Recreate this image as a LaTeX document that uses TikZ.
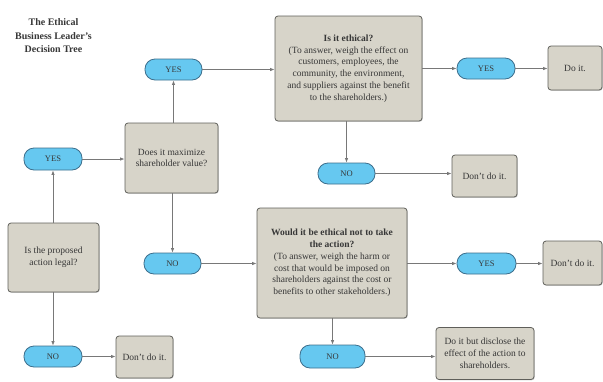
\documentclass[tikz,border=0pt]{standalone}
\usepackage{fontspec}
\setmainfont{Liberation Serif}
\usetikzlibrary{arrows.meta,shadows}
\definecolor{boxfill}{RGB}{215,212,201}
\definecolor{boxline}{RGB}{95,95,90}
\definecolor{pillfill}{RGB}{102,200,240}
\definecolor{pillline}{RGB}{60,110,140}
\definecolor{txt}{RGB}{55,55,55}
\definecolor{conn}{RGB}{120,120,120}
\tikzset{
  decbox/.style={draw=boxline, line width=0.8pt, fill=boxfill, rounded corners=3pt,
    align=center, text=txt, inner sep=2pt,
    font=\fontsize{9.5}{11.8}\selectfont,
    drop shadow={shadow xshift=0.8pt, shadow yshift=-0.8pt, opacity=0.35}},
  pill/.style={draw=pillline, line width=0.8pt, fill=pillfill, rounded corners=10pt,
    align=center, text=txt, inner sep=1pt, font=\fontsize{8.5}{9}\selectfont},
  conn/.style={draw=conn, line width=0.8pt, -{Latex[length=4.5pt,width=3.5pt]}},
}
\begin{document}
\begin{tikzpicture}[x=1pt,y=-1pt]
\useasboundingbox (0,0) rectangle (603,381);
% title
\node (title) [align=center, text=txt, font=\bfseries\fontsize{10}{13.5}\selectfont] at (53.5,36)
  {The Ethical\\Business Leader's\\Decision Tree};
% boxes
\node (legal) [decbox, minimum width=91pt, minimum height=69pt] at (53.5,257.5)
  {Is the proposed\\action legal?};
\node (max) [decbox, minimum width=93pt, minimum height=70pt] at (171.5,158)
  {Does it maximize\\shareholder value?};
\node (eth) [decbox, minimum width=147pt, minimum height=105pt] at (348.5,68.5)
  {\textbf{Is it ethical?}\\(To answer, weigh the effect on\\customers, employees, the\\community, the environment,\\and suppliers against the benefit\\to the shareholders.)};
\node (would) [decbox, minimum width=150pt, minimum height=110pt] at (332,263)
  {\textbf{Would it be ethical not to take}\\\textbf{the action?}\\(To answer, weigh the harm or\\cost that would be imposed on\\shareholders against the cost or\\benefits to other stakeholders.)};
\node (dont1) [decbox, minimum width=57pt, minimum height=42pt] at (144.5,357) {Don't do it.};
\node (doit) [decbox, minimum width=54pt, minimum height=44pt] at (575,68) {Do it.};
\node (dont2) [decbox, minimum width=65pt, minimum height=42pt] at (484.5,176) {Don't do it.};
\node (dont3) [decbox, minimum width=59pt, minimum height=44pt] at (572.5,263) {Don't do it.};
\node (disc) [decbox, minimum width=98pt, minimum height=52pt] at (485,353.5)
  {Do it but disclose the\\effect of the action to\\shareholders.};
% pills
\node (yes1) [pill, minimum width=58pt, minimum height=22pt] at (53,159) {YES};
\node (no1) [pill, minimum width=58pt, minimum height=21pt] at (53,356.5) {NO};
\node (yes2) [pill, minimum width=57pt, minimum height=21pt] at (173.5,69.5) {YES};
\node (no2) [pill, minimum width=57pt, minimum height=21pt] at (172.5,263.5) {NO};
\node (yes3) [pill, minimum width=58pt, minimum height=21pt] at (486,68.5) {YES};
\node (no3) [pill, minimum width=57pt, minimum height=21pt] at (346.5,173.5) {NO};
\node (yes4) [pill, minimum width=59pt, minimum height=21pt] at (486.5,263.5) {YES};
\node (no4) [pill, minimum width=65pt, minimum height=23pt] at (332.5,356.5) {NO};
% connectors
\draw[conn] (legal.north -| yes1) -- (yes1.south);
\draw[conn] (legal.south -| no1) -- (no1.north);
\draw[conn] (yes1.east) -- (yes1.east -| max.west);
\draw[conn] (no1.east) -- (no1.east -| dont1.west);
\draw[conn] (max.north -| yes2) -- (yes2.south);
\draw[conn] (max.south -| no2) -- (no2.north);
\draw[conn] (yes2.east) -- (yes2.east -| eth.west);
\draw[conn] (no2.east) -- (no2.east -| would.west);
\draw[conn] (eth.east |- yes3) -- (yes3.west);
\draw[conn] (yes3.east) -- (yes3.east -| doit.west);
\draw[conn] (eth.south -| no3) -- (no3.north);
\draw[conn] (no3.east) -- (no3.east -| dont2.west);
\draw[conn] (would.east |- yes4) -- (yes4.west);
\draw[conn] (yes4.east) -- (yes4.east -| dont3.west);
\draw[conn] (would.south -| no4) -- (no4.north);
\draw[conn] (no4.east) -- (no4.east -| disc.west);
\end{tikzpicture}
\end{document}
